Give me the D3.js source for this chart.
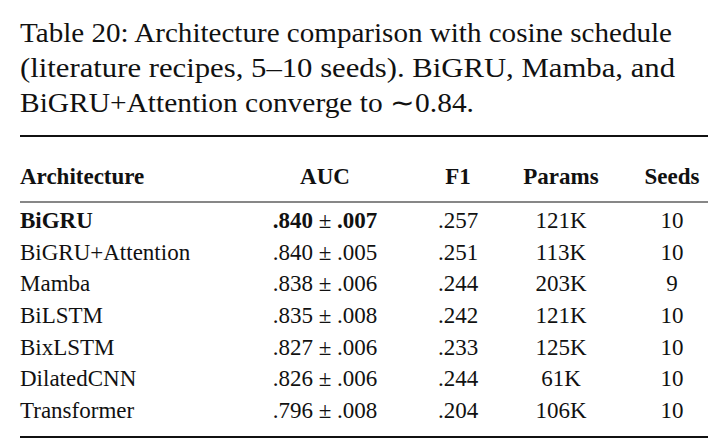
<!DOCTYPE html>
<html><head><meta charset="utf-8">
<script src="https://cdn.jsdelivr.net/npm/d3@7"></script>
<style>body{margin:0;background:#fff}svg{display:block}text{font-family:"Liberation Serif","Tinos","Times New Roman",Times,serif;fill:#111}</style>
</head><body><svg id="c" width="723" height="445"></svg>
<script>
const captionLines = ["Table 20: Architecture comparison with cosine schedule","(literature recipes, 5\u201310 seeds).  BiGRU, Mamba, and","BiGRU+Attention converge to \u223c0.84."];
const captionWidths = [652,655,454];
const headers = ["Architecture","AUC","F1","Params","Seeds"];
const architectures = ["BiGRU","BiGRU+Attention","Mamba","BiLSTM","BixLSTM","DilatedCNN","Transformer"];
const auc = [".840",".840",".838",".835",".827",".826",".796"];
const aucStd = [".007",".005",".006",".008",".006",".006",".008"];
const f1 = [".257",".251",".244",".242",".233",".244",".204"];
const params = ["121K","113K","203K","121K","125K","61K","106K"];
const seeds = [10,10,9,10,10,10,10];
const boldRow = 0;

const svg = d3.select("#c");
const cap = svg.append("g");
captionLines.forEach((t,i)=>cap.append("text").attr("x",20).attr("y",42+i*35).attr("font-size",27)
  .attr("textLength",captionWidths[i]).attr("lengthAdjust","spacingAndGlyphs").text(t));

const rowY = d3.scalePoint().domain(d3.range(architectures.length)).range([228,418]);
const colX = {arch:20, auc:325, f1:458, params:561, seeds:672};
const fs = 23;
svg.append("line").attr("x1",20).attr("x2",708).attr("y1",136).attr("y2",136).attr("stroke","#111").attr("stroke-width",2);
svg.append("line").attr("x1",20).attr("x2",708).attr("y1",202).attr("y2",202).attr("stroke","#111").attr("stroke-width",1.2);
svg.append("line").attr("x1",20).attr("x2",708).attr("y1",437).attr("y2",437).attr("stroke","#111").attr("stroke-width",2);
const hx=[colX.arch,colX.auc,colX.f1,colX.params,colX.seeds];
svg.selectAll("text.h").data(headers).join("text").attr("class","h")
  .attr("x",(d,i)=>hx[i]).attr("y",184).attr("font-size",fs).attr("font-weight","bold")
  .attr("text-anchor",(d,i)=>i===0?"start":"middle").text(d=>d);
const rows = svg.selectAll("g.r").data(architectures).join("g").attr("class","r")
  .attr("transform",(d,i)=>`translate(0,${rowY(i)})`);
rows.append("text").attr("x",colX.arch).attr("font-size",fs).attr("font-weight",(d,i)=>i===boldRow?"bold":null).text(d=>d);
rows.append("text").attr("x",colX.auc).attr("text-anchor","middle").attr("font-size",fs)
  .each(function(d,i){const t=d3.select(this);const w=i===boldRow?"bold":null;
    t.append("tspan").attr("font-weight",w).text(auc[i]);
    t.append("tspan").text(" \u00b1 ");
    t.append("tspan").attr("font-weight",w).text(aucStd[i]);});
rows.append("text").attr("x",colX.f1).attr("text-anchor","middle").attr("font-size",fs).text((d,i)=>f1[i]);
rows.append("text").attr("x",colX.params).attr("text-anchor","middle").attr("font-size",fs).text((d,i)=>params[i]);
rows.append("text").attr("x",colX.seeds).attr("text-anchor","middle").attr("font-size",fs).text((d,i)=>seeds[i]);
</script></body></html>
